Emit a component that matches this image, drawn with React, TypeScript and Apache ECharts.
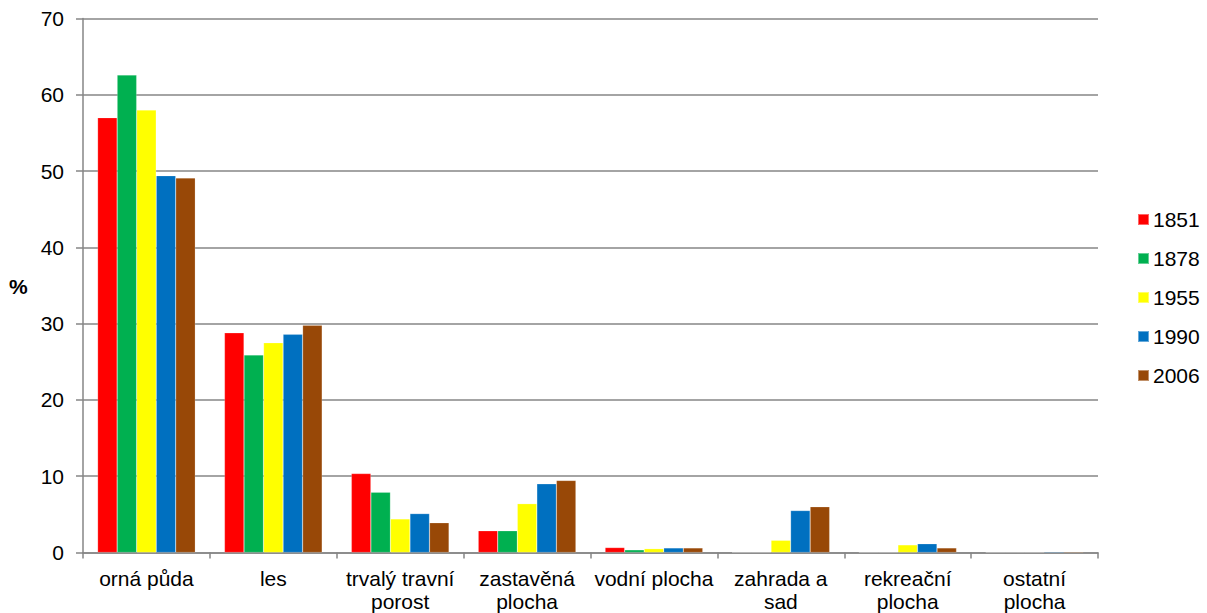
import React, { useEffect, useRef } from "react";
import * as echarts from "echarts";

const categories = [
  "orná půda",
  "les",
  "trvalý travní\nporost",
  "zastavěná\nplocha",
  "vodní plocha",
  "zahrada a\nsad",
  "rekreační\nplocha",
  "ostatní\nplocha",
];
const years = ["1851", "1878", "1955", "1990", "2006"];
const colors = ["#FF0000", "#00B050", "#FFFF00", "#0070C0", "#984807"];
const v1851 = [57.0, 28.8, 10.35, 2.85, 0.65, 0, 0, 0];
const v1878 = [62.6, 25.9, 7.9, 2.85, 0.35, 0, 0, 0];
const v1955 = [58.0, 27.5, 4.4, 6.4, 0.5, 1.6, 1.0, 0];
const v1990 = [49.4, 28.6, 5.1, 9.0, 0.6, 5.5, 1.15, 0.1];
const v2006 = [49.1, 29.8, 3.9, 9.45, 0.6, 6.0, 0.6, 0.1];
const seriesValues = [v1851, v1878, v1955, v1990, v2006];
const yTicks = { min: 0, max: 70, interval: 10 };

export default function App() {
  const ref = useRef<HTMLDivElement>(null);
  useEffect(() => {
    const prevMargin = document.body.style.margin;
    document.body.style.margin = "0";
    document.body.style.overflow = "hidden";
    const chart = echarts.init(ref.current!, null, { renderer: "svg" });
    const font = "Liberation Sans, Arial, sans-serif";
    chart.setOption({
      animation: false,
      textStyle: { fontFamily: font },
      grid: {
        left: 83,
        right: 109,
        top: 18.5,
        bottom: 60.5,
        containLabel: false,
        outerBoundsMode: "none",
      },
      legend: {
        orient: "vertical",
        left: 1137,
        top: 209,
        padding: 0,
        itemWidth: 11,
        itemHeight: 11,
        itemGap: 18,
        icon: "rect",
        data: years,
        textStyle: { fontSize: 21, color: "#000", fontFamily: font, lineHeight: 21, padding: [0, 0, 0, -1] },
      },
      graphic: [
        {
          type: "text",
          left: 9,
          top: 276,
          style: { text: "%", font: `bold 21px ${font}`, fill: "#000" },
        },
      ],
      xAxis: {
        type: "category",
        data: categories,
        axisLine: { lineStyle: { color: "#868686", width: 1.5 } },
        axisTick: { show: true, length: 6, alignWithLabel: false, lineStyle: { color: "#868686", width: 1.5 } },
        axisLabel: { color: "#000", fontSize: 21, fontFamily: font, lineHeight: 23.3, margin: 14, interval: 0 },
      },
      yAxis: {
        type: "value",
        min: yTicks.min,
        max: yTicks.max,
        interval: yTicks.interval,
        axisLine: { show: true, lineStyle: { color: "#868686", width: 1.5 } },
        axisTick: { show: true, length: 7, lineStyle: { color: "#868686", width: 1.5 } },
        splitLine: { lineStyle: { color: "#868686", width: 1.5 } },
        axisLabel: { color: "#000", fontSize: 21, fontFamily: font, margin: 19 },
      },
      series: years.map((y, i) => ({
        name: y,
        type: "bar",
        data: seriesValues[i],
        barGap: "0%",
        barCategoryGap: "23%",
        itemStyle: { color: colors[i], borderColor: "rgba(255,255,255,0.4)", borderWidth: 0.5 },
      })),
    });
    return () => {
      chart.dispose();
      document.body.style.margin = prevMargin;
    };
  }, []);
  return <div ref={ref} style={{ width: 1207, height: 613 }} />;
}
